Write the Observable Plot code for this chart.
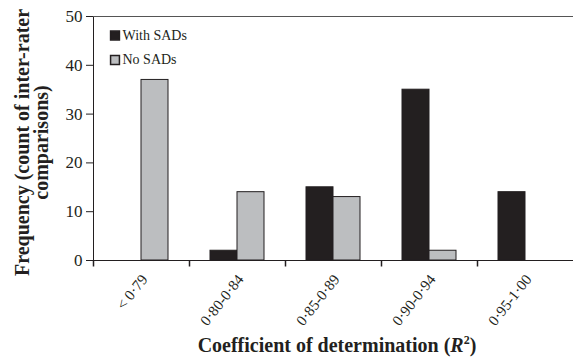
<!DOCTYPE html>
<html>
<head>
<meta charset="utf-8">
<script src="https://cdn.jsdelivr.net/npm/d3@7"></script>
<script src="https://cdn.jsdelivr.net/npm/@observablehq/plot@0.6"></script>
<style>
  body { margin: 0; background: white; }
  #wrap { position: relative; width: 574px; height: 361px; font-family: 'Liberation Serif', 'Times New Roman', serif; }
  #xtitle { position: absolute; left: 91px; right: 0; top: 335px; padding-left: 9px; text-align: center; font-weight: bold; font-size: 20px; color: #231f20; line-height: 20px; white-space: nowrap; }
  #xtitle sup { font-size: 12px; line-height: 0; }
  #chart svg g[aria-label^="y-axis"] text { font-size: 17px; }
</style>
</head>
<body>
<div id="wrap">
  <div id="chart"></div>
  <div id="xtitle">Coefficient of determination (<i>R</i><sup>2</sup>)</div>
</div>
<script>
const categories = ["< 0·79", "0·80-0·84", "0·85-0·89", "0·90-0·94", "0·95-1·00"];
const series = ["With SADs", "No SADs"];
const withSADs = [0, 2, 15, 35, 14];
const noSADs = [37, 14, 13, 2, 0];
const yTicks = [0, 10, 20, 30, 40, 50];
const colors = ["#231f20", "#bcbec0"];
const yLabel = "Frequency (count of inter-rater\ncomparisons)";

const table = categories.flatMap((c, i) => [
  {cat: c, series: series[0], value: withSADs[i]},
  {cat: c, series: series[1], value: noSADs[i]}
]).filter(d => d.value > 0);

const tickSymbol = {draw(ctx) { ctx.moveTo(0, 0); ctx.lineTo(0, 6); }};
const first = () => categories[0];

const chart = Plot.plot({
  width: 574,
  height: 361,
  marginLeft: 91,
  marginTop: 16,
  marginRight: 0,
  marginBottom: 101,
  style: {fontFamily: "'Liberation Serif', 'Times New Roman', serif", fontSize: "15px", color: "#231f20", background: "white"},
  fx: {domain: categories, paddingInner: 0, paddingOuter: 0, axis: null, label: null},
  x: {domain: series, paddingInner: 0, paddingOuter: 0.73, axis: null},
  y: {domain: [0, 50], ticks: yTicks, tickSize: 7, tickPadding: 4, line: true, label: null},
  color: {domain: series, range: colors},
  marks: [
    Plot.barY(table, {fx: "cat", x: "series", y: "value", fill: "series", stroke: "#231f20", strokeWidth: 1}),
    Plot.ruleY([50], {stroke: "#555"}),
    Plot.ruleY([0], {stroke: "#231f20"}),
    Plot.dot([0], {frameAnchor: "bottom-left", symbol: tickSymbol, stroke: "#231f20", fill: "none"}),
    Plot.text(categories, {fx: d => d, text: d => d, frameAnchor: "bottom", rotate: -52, textAnchor: "end", lineAnchor: "middle", dx: 3, dy: 16, fontSize: 15}),
    Plot.text([yLabel], {fx: first, text: d => d, frameAnchor: "left", rotate: -90, dx: -61, dy: 4, textAnchor: "middle", lineAnchor: "middle", fontWeight: "bold", fontSize: 20, lineHeight: 0.92}),
    Plot.dot(series, {fx: first, frameAnchor: "top-left", dx: 21.5, dy: 19, symbol: "square", r: 5, fill: d => d, stroke: "#231f20", filter: (d, i) => i === 0}),
    Plot.dot(series, {fx: first, frameAnchor: "top-left", dx: 21.5, dy: 43.5, symbol: "square", r: 5, fill: d => d, stroke: "#231f20", filter: (d, i) => i === 1}),
    Plot.text(series, {fx: first, frameAnchor: "top-left", dx: 29, dy: 19, text: d => d, textAnchor: "start", lineAnchor: "middle", fontSize: 14, filter: (d, i) => i === 0}),
    Plot.text(series, {fx: first, frameAnchor: "top-left", dx: 29, dy: 43.5, text: d => d, textAnchor: "start", lineAnchor: "middle", fontSize: 14, filter: (d, i) => i === 1})
  ]
});
document.getElementById("chart").appendChild(chart);
</script>
</body>
</html>
